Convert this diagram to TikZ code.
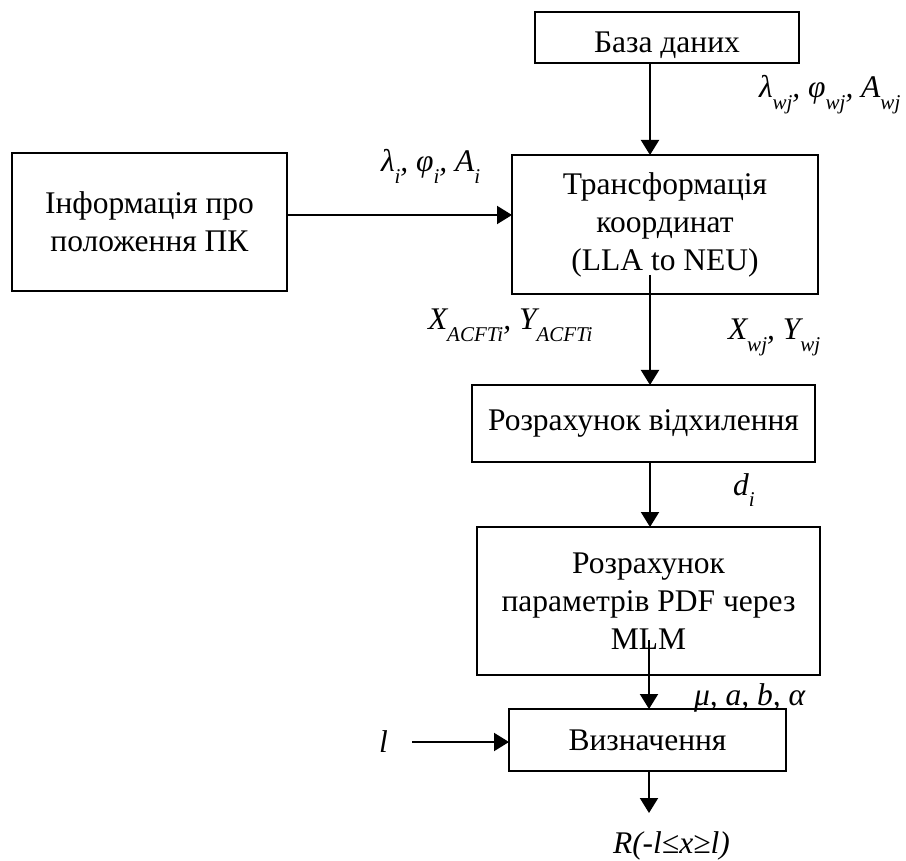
\documentclass[tikz,border=0pt]{standalone}
\usepackage{fontspec}
\setmainfont{Liberation Serif}
\usetikzlibrary{arrows.meta}
\newcommand{\lsub}[1]{\raisebox{-0.36em}{\fontsize{21}{21}\selectfont\itshape #1}}

\begin{document}
\begin{tikzpicture}[x=1pt,y=-1pt,line width=2pt,
    blok/.style={draw,rectangle,inner sep=0pt,outer sep=0pt,align=center,
        font=\fontsize{31.5}{38}\selectfont},
    lbl/.style={inner sep=0pt,anchor=base west,font=\fontsize{31.5}{38}\selectfont\itshape},
    arr/.style={-{Triangle[length=15pt,width=18pt]}}]
\useasboundingbox (0,0) rectangle (906,861);
%the blocks, from the top down
\node[blok,minimum width=264pt,minimum height=51pt,text height=31pt,text depth=0pt]
    (db) at (667,37.5) {База даних};
\node[blok,minimum width=275pt,minimum height=138pt] (info) at (149.5,222)
    {Інформація про\\положення ПК};
\node[blok,minimum width=306pt,minimum height=139pt] (tr) at (665,224.5)
    {Трансформація\\координат\\(LLA to NEU)};
\node[blok,minimum width=343pt,minimum height=77pt] (calc) at (643.5,423.5)
    {Розрахунок відхилення};
\node[blok,minimum width=343pt,minimum height=148pt] (pdf) at (648.5,601)
    {Розрахунок\\параметрів PDF через\\MLM};
\node[blok,minimum width=277pt,minimum height=62pt] (det) at (647.5,740) {Визначення};
%labels of the data that flows along the arrows
\node[lbl] (lw) at (758,98) {λ\lsub{wj}, φ\lsub{wj}, A\lsub{wj}};
\node[lbl] (li) at (380,172) {λ\lsub{i}, φ\lsub{i}, A\lsub{i}};
\node[lbl] (xa) at (427,330) {X\lsub{ACFTi}, Y\lsub{ACFTi}};
\node[lbl] (xw) at (727,340) {X\lsub{wj}, Y\lsub{wj}};
\node[lbl] (di) at (732,495) {d\lsub{i}};
\node[lbl] (mu) at (693,705) {μ, a, b, α};
\node[lbl] (ll) at (378,752) {l};
\node[lbl] (res) at (612,853) {R(-l≤x≥l)};
%free ends of the arrows
\coordinate (ax) at (650,0);
\coordinate (hy) at (0,215);
\coordinate (s1) at (650,275);
\coordinate (s2) at (649,640);
\coordinate (r) at (649,813);
\coordinate (lin) at (412,742);
%arrows
\draw[arr] (db.south -| ax) -- (tr.north -| ax);
\draw[arr] (info.east |- hy) -- (tr.west |- hy);
\draw[arr] (s1) -- (calc.north -| s1);
\draw[arr] (calc.south -| ax) -- (pdf.north -| ax);
\draw[arr] (s2) -- (det.north -| s2);
\draw[arr] (det.south -| r) -- (r);
\draw[arr] (lin) -- (det.west |- lin);
\end{tikzpicture}
\end{document}
